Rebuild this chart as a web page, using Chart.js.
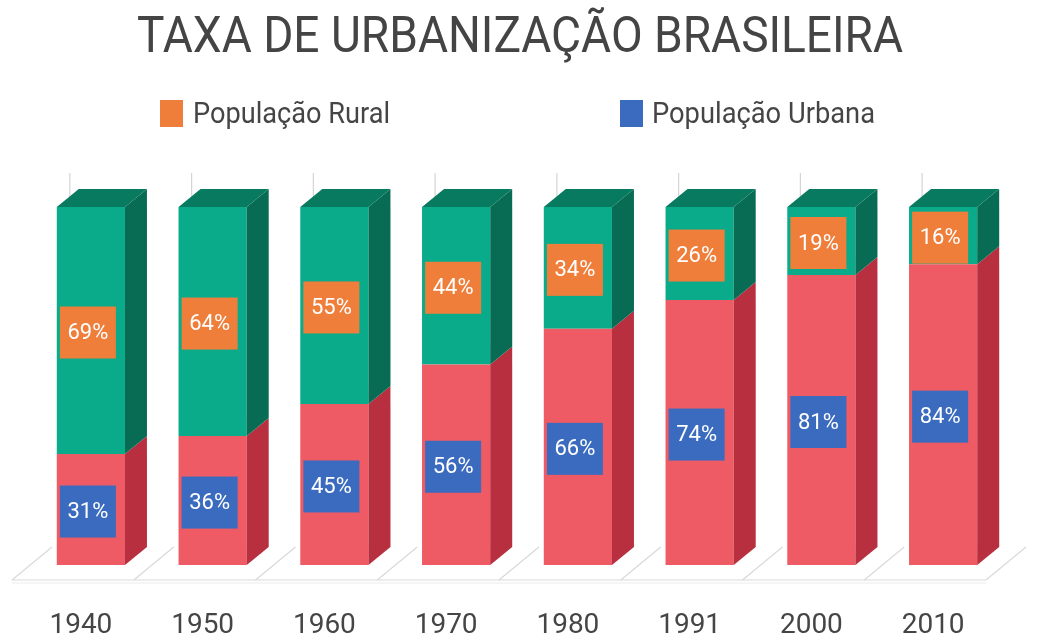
<!DOCTYPE html>
<html>
<head>
<meta charset="utf-8">
<script src="https://cdn.jsdelivr.net/npm/chart.js@4.4.1/dist/chart.umd.min.js"></script>
<style>
  body { margin: 0; background: #fff; }
  #wrap { width: 1041px; height: 639px; }
</style>
</head>
<body>
<div id="wrap"><canvas id="grafico" width="1041" height="639"></canvas></div>
<script>
// dados
const anos = ['1940', '1950', '1960', '1970', '1980', '1991', '2000', '2010'];
const urbana = [31, 36, 45, 56, 66, 74, 81, 84];
const rural = [69, 64, 55, 44, 34, 26, 19, 16];
const titulo = 'TAXA DE URBANIZAÇÃO BRASILEIRA';
const legendas = ['População Rural', 'População Urbana'];

// cores
const vermelho = { frente: '#ef5b64', lado: '#b8303f', topo: '#c93a48' };
const verde = { frente: '#0aab8a', lado: '#076c53', topo: '#087a5f' };
const laranja = '#ef7e3b';
const azul = '#3a6bbf';

const DX = 22, DY = -18; // profundidade 3d

function poly(ctx, pts, cor) {
  ctx.beginPath();
  ctx.moveTo(pts[0][0], pts[0][1]);
  for (let i = 1; i < pts.length; i++) ctx.lineTo(pts[i][0], pts[i][1]);
  ctx.closePath();
  ctx.fillStyle = cor;
  ctx.fill();
}

function textoEstreito(ctx, txt, x, y, fonte, largura, cor, alinhar) {
  ctx.save();
  ctx.font = fonte;
  const w = ctx.measureText(txt).width;
  const s = largura / w;
  ctx.translate(x, y);
  ctx.scale(s, 1);
  ctx.fillStyle = cor;
  ctx.textAlign = alinhar || 'left';
  ctx.textBaseline = 'alphabetic';
  ctx.fillText(txt, 0, 0);
  ctx.restore();
}

const barras3d = {
  id: 'barras3d',
  beforeDatasetsDraw(chart) {
    const ctx = chart.ctx;
    const a = chart.chartArea;
    const xs = chart.scales.x;
    const fb = a.bottom + 15, bb = a.bottom - 18;
    ctx.save();
    ctx.strokeStyle = '#d9d9d9';
    ctx.lineWidth = 1.2;
    // piso
    const passo = (a.right - a.left) / anos.length;
    for (let i = 0; i <= anos.length; i++) {
      const x = a.left + i * passo;
      ctx.beginPath();
      ctx.moveTo(x - 18, fb);
      ctx.lineTo(x + 22, bb);
      ctx.stroke();
    }
    ctx.beginPath();
    ctx.moveTo(a.left - 18, fb);
    ctx.lineTo(a.right - 18, fb);
    ctx.stroke();
    ctx.strokeStyle = '#ececec';
    ctx.beginPath();
    ctx.moveTo(a.left - 18, fb + 3);
    ctx.lineTo(a.right - 18, fb + 3);
    ctx.stroke();
    // linhas da parede ao fundo
    ctx.strokeStyle = '#d4d4d4';
    anos.forEach((_, i) => {
      const x = xs.getPixelForValue(i) - 21;
      ctx.beginPath();
      ctx.moveTo(x, a.top - 34);
      ctx.lineTo(x, a.top);
      ctx.stroke();
    });
    ctx.restore();
  },
  afterDatasetsDraw(chart) {
    const ctx = chart.ctx;
    const cores = [vermelho, verde];
    ctx.save();
    [0, 1].forEach(d => {
      chart.getDatasetMeta(d).data.forEach(el => {
        const l = el.x - el.width / 2, r = el.x + el.width / 2;
        const t = el.y, b = el.base;
        poly(ctx, [[r, t], [r + DX, t + DY], [r + DX, b + DY], [r, b]], cores[d].lado);
        if (d === 1) {
          poly(ctx, [[l, t], [l + DX, t + DY], [r + DX, t + DY], [r, t]], cores[d].topo);
        }
      });
    });
    // caixas de rotulo
    const dadosRot = [urbana, rural];
    const corCaixa = [azul, laranja];
    [0, 1].forEach(d => {
      chart.getDatasetMeta(d).data.forEach((el, i) => {
        const cx = el.x - 3, cy = (el.y + el.base) / 2 + 2;
        ctx.fillStyle = corCaixa[d];
        ctx.fillRect(cx - 28, cy - 26, 56, 52);
        ctx.fillStyle = '#fff';
        ctx.font = '22px Roboto';
        ctx.textAlign = 'center';
        ctx.textBaseline = 'middle';
        ctx.fillText(dadosRot[d][i] + '%', cx, cy + 1);
      });
    });
    ctx.restore();
  },
  afterDraw(chart) {
    const ctx = chart.ctx;
    textoEstreito(ctx, titulo, 520, 52, '400 50px Roboto', 766, '#444444', 'center');
    ctx.fillStyle = laranja;
    ctx.fillRect(160, 100, 23, 27);
    ctx.fillStyle = azul;
    ctx.fillRect(620, 100, 23, 27);
    textoEstreito(ctx, legendas[0], 193, 123, '400 29px Roboto', 197, '#454545');
    textoEstreito(ctx, legendas[1], 652, 123, '400 29px Roboto', 223, '#454545');
  }
};

new Chart('grafico', {
  type: 'bar',
  data: {
    labels: anos,
    datasets: [{
      label: legendas[1],
      data: urbana,
      backgroundColor: vermelho.frente,
      barPercentage: 0.56,
      categoryPercentage: 1
    }, {
      label: legendas[0],
      data: rural,
      backgroundColor: verde.frente,
      barPercentage: 0.56,
      categoryPercentage: 1
    }]
  },
  options: {
    responsive: false,
    animation: false,
    layout: { padding: { top: 207, left: 30, right: 37, bottom: 3 } },
    plugins: {
      legend: { display: false },
      title: { display: false },
      tooltip: { enabled: false }
    },
    scales: {
      x: {
        stacked: true,
        grid: { display: false },
        border: { display: false },
        afterFit(scale) { scale.height = 71; },
        ticks: {
          color: '#454545',
          font: { family: 'Roboto', size: 28, lineHeight: 1 },
          padding: 39,
          labelOffset: -10
        }
      },
      y: {
        stacked: true,
        display: false,
        min: 0,
        max: 100
      }
    }
  },
  plugins: [barras3d]
});
</script>
</body>
</html>
